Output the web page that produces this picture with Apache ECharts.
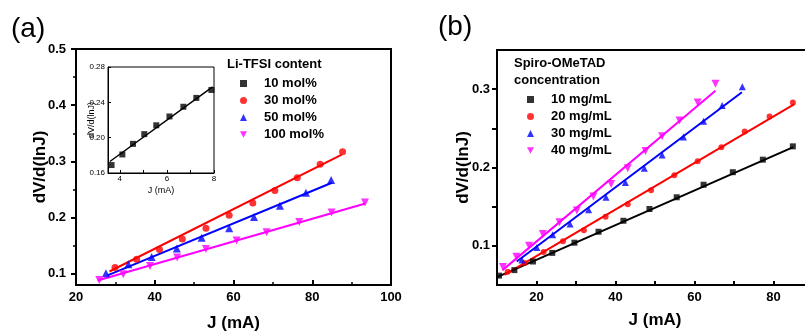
<!DOCTYPE html>
<html>
<head>
<meta charset="utf-8">
<script src="https://cdn.jsdelivr.net/npm/echarts@6/dist/echarts.min.js"></script>
<style>
  html, body { margin: 0; padding: 0; background: #fff; }
  #chart { width: 805px; height: 331px; }
</style>
</head>
<body>
<div id="chart"></div>
<script>
// (a) Li-TFSI content, main plot + inset (10 mol%)
const li10J = [3.65, 4.11, 4.56, 5.04, 5.55, 6.11, 6.70, 7.25, 7.89]
const li10V = [0.169, 0.181, 0.193, 0.204, 0.214, 0.224, 0.235, 0.245, 0.254]
const li10FitJ = [3.58, 7.94]
const li10FitV = [0.173, 0.2575]

const li30J = [29.9, 35.4, 41.2, 47.0, 53.0, 58.9, 64.9, 70.5, 76.2, 82.0, 87.7]
const li30V = [0.111, 0.126, 0.143, 0.162, 0.181, 0.204, 0.226, 0.248, 0.271, 0.295, 0.317]
const li30FitJ = [28.5, 87.5]
const li30FitV = [0.104, 0.312]

const li50J = [27.6, 33.3, 39.2, 45.6, 51.9, 58.9, 65.2, 71.8, 78.4, 84.8]
const li50V = [0.101, 0.117, 0.130, 0.145, 0.164, 0.181, 0.201, 0.221, 0.244, 0.267]
const li50FitJ = [28, 85]
const li50FitV = [0.097, 0.262]

const li100J = [25.9, 32.0, 38.8, 45.7, 53.0, 60.8, 68.4, 76.7, 84.9, 93.4]
const li100V = [0.089, 0.099, 0.114, 0.129, 0.144, 0.159, 0.174, 0.192, 0.209, 0.227]
const li100FitJ = [25.5, 93.5]
const li100FitV = [0.088, 0.225]

// (b) Spiro-OMeTAD concentration
const s10J = [10.5, 14.4, 19.1, 24.0, 29.6, 35.7, 42.0, 48.6, 55.5, 62.3, 69.7, 77.3, 84.9]
const s10V = [0.062, 0.069, 0.080, 0.091, 0.104, 0.118, 0.132, 0.147, 0.162, 0.178, 0.194, 0.210, 0.227]
const s10FitJ = [10, 85]
const s10FitV = [0.060, 0.226]

const s20J = [12.7, 17.0, 21.8, 26.7, 32.0, 37.5, 43.1, 49.0, 54.9, 60.8, 66.8, 72.7, 79.0, 84.9]
const s20V = [0.067, 0.078, 0.092, 0.106, 0.120, 0.137, 0.153, 0.171, 0.190, 0.208, 0.226, 0.246, 0.265, 0.283]
const s20FitJ = [11.9, 85.3]
const s20FitV = [0.063, 0.281]

const s30J = [16.3, 20.1, 24.1, 28.5, 33.2, 37.6, 42.5, 47.3, 51.8, 57.2, 62.3, 67.0, 72.1]
const s30V = [0.082, 0.098, 0.114, 0.128, 0.146, 0.162, 0.181, 0.199, 0.216, 0.239, 0.259, 0.279, 0.303]
const s30FitJ = [15, 72]
const s30FitV = [0.080, 0.296]

const s40J = [11.5, 14.9, 18.1, 21.6, 25.8, 30.2, 34.4, 38.9, 43.1, 47.6, 51.8, 56.2, 60.8, 65.3]
const s40V = [0.073, 0.086, 0.100, 0.115, 0.130, 0.145, 0.163, 0.179, 0.199, 0.221, 0.240, 0.260, 0.283, 0.307]
const s40FitJ = [11.4, 65.3]
const s40FitV = [0.069, 0.298]

const liLegend = ['10 mol%', '30 mol%', '50 mol%', '100 mol%']
const spLegend = ['10 mg/mL', '20 mg/mL', '30 mg/mL', '40 mg/mL']

const aYLabels = [0.1, 0.2, 0.3, 0.4, 0.5]
const aYMinor = [0.15, 0.25, 0.35, 0.45]
const insetXLabels = [4, 6, 8]
const insetXTicks = [4, 5, 6, 7, 8]
const bXLabels = [20, 40, 60, 80]
const bXTicks = [20, 30, 40, 50, 60, 70, 80]
const bYLabels = [0.1, 0.2, 0.3]
const bYTicks = [0.1, 0.15, 0.2, 0.25, 0.3]

const FONT = 'Liberation Sans, Arial, sans-serif'
const DOWN_TRI = 'path://M0,0 L10,0 L5,9 Z'
const zip = (a, b) => a.map((v, i) => [v, b[i]])

const chart = echarts.init(document.getElementById('chart'), null, { renderer: 'canvas' })

const lineStyle = { color: '#000', width: 2 }
const boldLabel = { color: '#000', fontFamily: FONT, fontWeight: 'bold', fontSize: 13 }
const smallLabel = { color: '#000', fontFamily: FONT, fontSize: 8 }
const bigName = { fontFamily: FONT, fontSize: 17, fontWeight: 'bold', color: '#000' }

function scatter(name, J, V, symbol, color, xi, yi, size) {
  return {
    name, type: 'scatter', xAxisIndex: xi, yAxisIndex: yi,
    symbol, symbolSize: size,
    itemStyle: { color }, data: zip(J, V), z: 3
  }
}
function fit(J, V, color, xi, yi) {
  return {
    name: 'fit', type: 'line', xAxisIndex: xi, yAxisIndex: yi,
    showSymbol: false, symbol: 'none', silent: true,
    lineStyle: { color, width: 2 }, data: zip(J, V), z: 2
  }
}

const option = {
  backgroundColor: '#fff',
  animation: false,
  title: [
    { text: '(a)', left: 6, top: 10, textStyle: { fontFamily: FONT, fontSize: 28, fontWeight: 'normal', color: '#000' } },
    { text: '(b)', left: 433, top: 8, textStyle: { fontFamily: FONT, fontSize: 28, fontWeight: 'normal', color: '#000' } },
    { text: 'Li-TFSI content', left: 222, top: 53, textStyle: { fontFamily: FONT, fontSize: 13, fontWeight: 'bold', color: '#000' } },
    { text: 'Spiro-OMeTAD\nconcentration', left: 509, top: 50, textStyle: { fontFamily: FONT, fontSize: 13, fontWeight: 'bold', color: '#000', lineHeight: 17 } }
  ],
  legend: [
    {
      data: liLegend, orient: 'vertical', left: 235, top: 70,
      itemWidth: 7, itemHeight: 7, itemGap: 0,
      textStyle: { ...boldLabel, lineHeight: 17, padding: [0, 0, 0, 12] }
    },
    {
      data: spLegend, orient: 'vertical', left: 522, top: 86,
      itemWidth: 7, itemHeight: 7, itemGap: 0,
      textStyle: { ...boldLabel, lineHeight: 17, padding: [0, 0, 0, 12] }
    }
  ],
  grid: [
    { left: 76, top: 49, width: 315, height: 236, outerBoundsMode: 'none', containLabel: false, show: true, borderColor: '#000', borderWidth: 2, backgroundColor: 'transparent' },
    { left: 108, top: 67, width: 106, height: 106, outerBoundsMode: 'none', containLabel: false, show: true, borderColor: '#000', borderWidth: 1, backgroundColor: '#fff', z: 4 },
    { left: 497, top: 50, width: 316, height: 235, outerBoundsMode: 'none', containLabel: false, show: true, borderColor: '#000', borderWidth: 2, backgroundColor: 'transparent' }
  ],
  xAxis: [
    {
      gridIndex: 0, type: 'value', min: 20, max: 100, interval: 20,
      axisLine: { lineStyle }, splitLine: { show: false },
      axisTick: { inside: true, length: 5, lineStyle },
      minorTick: { show: true, splitNumber: 2, length: 3, lineStyle: { color: '#000', width: 1.5 } },
      axisLabel: { ...boldLabel, margin: 6 },
      name: 'J (mA)', nameLocation: 'middle', nameGap: 30, nameMoveOverlap: false, nameTextStyle: bigName
    },
    {
      gridIndex: 1, type: 'value', min: 3.5, max: 8,
      axisLine: { lineStyle: { color: '#000', width: 1 } }, splitLine: { show: false },
      axisTick: { inside: true, length: 3, customValues: insetXTicks, lineStyle: { color: '#000', width: 1 } },
      axisLabel: { ...smallLabel, margin: 2, customValues: insetXLabels },
      name: 'J (mA)', nameLocation: 'middle', nameGap: 13, nameMoveOverlap: false,
      nameTextStyle: { fontFamily: FONT, fontSize: 9, color: '#000' }, z: 5
    },
    {
      gridIndex: 2, type: 'value', min: 10, max: 90,
      axisLine: { lineStyle }, splitLine: { show: false },
      axisTick: { inside: true, length: 4, customValues: bXTicks, lineStyle },
      axisLabel: { ...boldLabel, margin: 6, customValues: bXLabels },
      name: 'J (mA)', nameLocation: 'middle', nameGap: 27, nameMoveOverlap: false, nameTextStyle: bigName
    }
  ],
  yAxis: [
    {
      gridIndex: 0, type: 'value', min: 0.08, max: 0.5, position: 'left',
      axisLine: { lineStyle }, splitLine: { show: false },
      axisTick: { length: 5, customValues: aYLabels, lineStyle },
      axisLabel: { ...boldLabel, margin: 10, customValues: aYLabels, formatter: v => v.toFixed(1) },
      name: 'dV/d(lnJ)', nameLocation: 'middle', nameGap: 27, nameMoveOverlap: false, nameTextStyle: bigName
    },
    {
      gridIndex: 0, type: 'value', min: 0.08, max: 0.5, position: 'left',
      axisLine: { show: false }, splitLine: { show: false },
      axisTick: { length: 3, customValues: aYMinor, lineStyle: { color: '#000', width: 1.5 } },
      axisLabel: { show: false }
    },
    {
      gridIndex: 1, type: 'value', min: 0.16, max: 0.28, interval: 0.04,
      axisLine: { lineStyle: { color: '#000', width: 1 } }, splitLine: { show: false },
      axisTick: { inside: true, length: 3, lineStyle: { color: '#000', width: 1 } },
      axisLabel: { ...smallLabel, margin: 3, formatter: v => v.toFixed(2) },
      name: 'dV/d(lnJ)', nameLocation: 'middle', nameGap: 12, nameMoveOverlap: false,
      nameTextStyle: { fontFamily: FONT, fontSize: 9, color: '#000' }, z: 5
    },
    {
      gridIndex: 2, type: 'value', min: 0.05, max: 0.35,
      axisLine: { lineStyle }, splitLine: { show: false },
      axisTick: { length: 5, customValues: bYTicks, lineStyle },
      axisLabel: { ...boldLabel, margin: 7, customValues: bYLabels, formatter: v => v.toFixed(1) },
      name: 'dV/d(lnJ)', nameLocation: 'middle', nameGap: 25, nameMoveOverlap: false, nameTextStyle: bigName
    }
  ],
  series: [
    fit(li30FitJ, li30FitV, '#ff0000', 0, 0),
    fit(li50FitJ, li50FitV, '#0000ff', 0, 0),
    fit(li100FitJ, li100FitV, '#ff00ff', 0, 0),
    scatter('30 mol%', li30J, li30V, 'circle', '#ff0000', 0, 0, 7),
    scatter('50 mol%', li50J, li50V, 'triangle', '#0000ff', 0, 0, 8),
    scatter('100 mol%', li100J, li100V, DOWN_TRI, '#ff00ff', 0, 0, 8),
    { ...fit(li10FitJ, li10FitV, '#000', 1, 2), z: 6, lineStyle: { color: '#000', width: 1.5 } },
    { ...scatter('10 mol%', li10J, li10V, 'rect', '#000', 1, 2, 6), z: 7 },

    fit(s10FitJ, s10FitV, '#000', 2, 3),
    fit(s20FitJ, s20FitV, '#ff0000', 2, 3),
    fit(s30FitJ, s30FitV, '#0000ff', 2, 3),
    fit(s40FitJ, s40FitV, '#ff00ff', 2, 3),
    scatter('10 mg/mL', s10J, s10V, 'rect', '#000', 2, 3, 6),
    scatter('20 mg/mL', s20J, s20V, 'circle', '#ff0000', 2, 3, 6),
    scatter('30 mg/mL', s30J, s30V, 'triangle', '#0000ff', 2, 3, 7),
    scatter('40 mg/mL', s40J, s40V, DOWN_TRI, '#ff00ff', 2, 3, 8)
  ]
}

chart.setOption(option)
</script>
</body>
</html>
